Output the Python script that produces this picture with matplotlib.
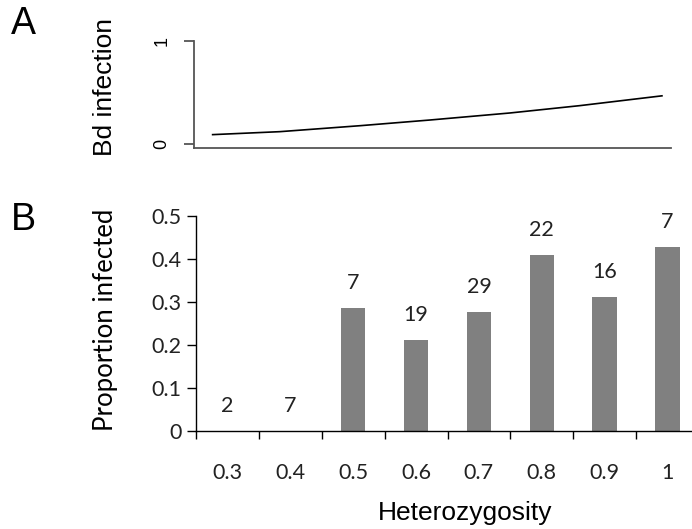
import matplotlib
matplotlib.use("Agg")
import matplotlib.pyplot as plt
import numpy as np

# Panel A: fitted curve
curve_h = [0.275, 0.383, 0.511, 0.622, 0.749, 0.860, 0.992]
curve_p = [0.093, 0.122, 0.180, 0.235, 0.303, 0.374, 0.470]

# Panel B: bars
categories = ["0.3", "0.4", "0.5", "0.6", "0.7", "0.8", "0.9", "1"]
proportions = [0.0, 0.0, 0.286, 0.211, 0.276, 0.409, 0.3125, 0.4286]
counts = ["2", "7", "7", "19", "29", "22", "16", "7"]

W, H = 692, 529
fig = plt.figure(figsize=(W / 100, H / 100), dpi=100)

ARIAL = "Liberation Sans"
CAL = "Lato"

def fx(px):
    return px / W

def fy(py):
    return 1 - py / H

# ---------- Panel A ----------
axA = fig.add_axes([fx(194), fy(148.3), fx(670.7) - fx(194), fy(41) - fy(148.3)])
axA.plot(curve_h, curve_p, color="black", lw=1.2, solid_capstyle="butt")
axA.set_xlim(0.2467, 1.0046)
axA.set_ylim(-0.039, 1.0)
for s in ["top", "right"]:
    axA.spines[s].set_visible(False)
for s in ["left", "bottom"]:
    axA.spines[s].set_color("#555555")
    axA.spines[s].set_linewidth(1.3)
axA.set_xticks([])
axA.set_yticks([0, 1])
axA.set_yticklabels(["0", "1"], rotation=90, va="center", fontfamily=ARIAL, fontsize=13)
axA.tick_params(axis="y", direction="out", length=7, width=1.3, color="#555555", pad=10)
fig.text(fx(105), fy(87), "Bd infection", rotation=90, ha="center", va="center",
         fontfamily=ARIAL, fontsize=19)

# ---------- Panel B ----------
axB = fig.add_axes([fx(196), fy(431), fx(699) - fx(196), fy(216) - fy(431)])
x = np.arange(len(categories))
axB.bar(x, proportions, width=0.39, color="#808080")
axB.set_xlim(-0.5, len(categories) - 0.5)
axB.set_ylim(0, 0.5)
for s in ["top", "right"]:
    axB.spines[s].set_visible(False)
for s in ["left", "bottom"]:
    axB.spines[s].set_linewidth(1.0)
axB.set_xticks(x)
axB.set_xticklabels(categories, fontfamily=CAL, fontsize=15.5, color="#222222")
axB.set_xticks(np.arange(len(categories)) - 0.5, minor=True)
axB.tick_params(axis="x", which="major", length=0, pad=23)
axB.tick_params(axis="x", which="minor", direction="out", length=6, width=1.0)
axB.set_yticks([0, 0.1, 0.2, 0.3, 0.4, 0.5])
axB.set_yticklabels(["0", "0.1", "0.2", "0.3", "0.4", "0.5"], fontfamily=CAL, fontsize=15.5,
                    color="#222222")
axB.tick_params(axis="y", direction="out", length=6.5, width=1.0, pad=4)
for xi, p, c in zip(x, proportions, counts):
    axB.annotate(c, (xi, p), xytext=(0, 25 * 0.72), textcoords="offset points",
                 ha="center", va="center", fontfamily=CAL, fontsize=15.5, color="#222222",
                 clip_on=False)
fig.text(fx(106), fy(320), "Proportion infected", rotation=90, ha="center", va="center",
         fontfamily=CAL, fontsize=18.5)
fig.text(fx(465), fy(513), "Heterozygosity", ha="center", va="center",
         fontfamily=ARIAL, fontsize=19)

fig.text(fx(23), fy(24), "A", ha="center", va="center", fontfamily=ARIAL, fontsize=27)
fig.text(fx(23), fy(220), "B", ha="center", va="center", fontfamily=ARIAL, fontsize=27)

fig.savefig("out.png", dpi=100)
